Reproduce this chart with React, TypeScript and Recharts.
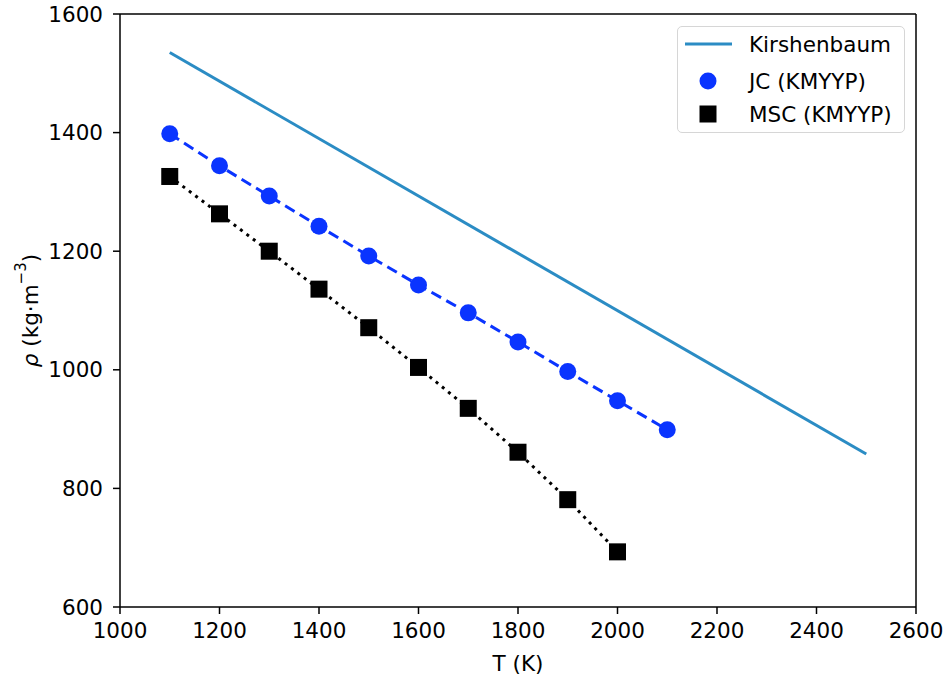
import React from 'react';
import { ComposedChart, Line, XAxis, YAxis, Legend, ReferenceLine } from 'recharts';

// temperatures (K) and densities (kg/m^3)
const jcTemps = [1100, 1200, 1300, 1400, 1500, 1600, 1700, 1800, 1900, 2000, 2100];
const jcRho = [1398, 1344, 1293, 1242, 1192, 1143, 1096, 1047, 997, 948, 899];

const mscTemps = [1100, 1200, 1300, 1400, 1500, 1600, 1700, 1800, 1900, 2000];
const mscRho = [1326, 1263, 1200, 1136, 1071, 1004, 935, 861, 781, 693];

const kirTemps = [1100, 2500];
const kirRho = [1535, 858];

const xTicks = [1000, 1200, 1400, 1600, 1800, 2000, 2200, 2400, 2600];
const yTicks = [600, 800, 1000, 1200, 1400, 1600];

const KIR_COLOR = '#2b8cc4';
const JC_COLOR = '#0a34ff';
const MSC_COLOR = '#000000';
const FONT = '"DejaVu Sans", sans-serif';
const FS = 21.5;

const jcData = jcTemps.map((t, i) => ({ T: t, rho: jcRho[i] }));
const mscData = mscTemps.map((t, i) => ({ T: t, rho: mscRho[i] }));
const kirData = kirTemps.map((t, i) => ({ T: t, rho: kirRho[i] }));

const SquareDot = (props: any) => {
  const { cx, cy } = props;
  if (cx == null || cy == null) return null;
  return <rect x={cx - 8.5} y={cy - 8.5} width={17} height={17} fill={MSC_COLOR} />;
};

const CircleDot = (props: any) => {
  const { cx, cy } = props;
  if (cx == null || cy == null) return null;
  return <circle cx={cx} cy={cy} r={8.5} fill={JC_COLOR} />;
};

const LegendBox = () => (
  <div
    style={{
      width: 228,
      height: 107,
      boxSizing: 'border-box',
      border: '1.5px solid #d6d6d6',
      borderRadius: 5,
      background: 'rgba(255,255,255,0.8)',
    }}
  >
    <svg width={226} height={105} style={{ display: 'block' }}>
      <line x1={7} y1={17} x2={54} y2={17} stroke={KIR_COLOR} strokeWidth={3} />
      <text x={71} y={25} fontSize={FS} fontFamily={FONT} fill="#000">Kirshenbaum</text>
      <circle cx={30} cy={54} r={8.5} fill={JC_COLOR} />
      <text x={71} y={62} fontSize={FS} fontFamily={FONT} fill="#000">JC (KMYYP)</text>
      <rect x={21.5} y={78.5} width={17} height={17} fill={MSC_COLOR} />
      <text x={71} y={95} fontSize={FS} fontFamily={FONT} fill="#000">MSC (KMYYP)</text>
    </svg>
  </div>
);

const YLabel = (props: any) => {
  const { viewBox } = props;
  const cy = viewBox.y + viewBox.height / 2;
  const cx = 30;
  return (
    <text
      x={cx}
      y={cy}
      transform={`rotate(-90, ${cx}, ${cy})`}
      textAnchor="middle"
      dominantBaseline="central"
      fontSize={FS}
      fontFamily={FONT}
      fill="#000"
    >
      <tspan fontStyle="italic">ρ</tspan>
      <tspan> (kg·m</tspan>
      <tspan fontSize={15} dy={-9}>−3</tspan>
      <tspan dy={9}>)</tspan>
    </text>
  );
};

const XLabel = (props: any) => {
  const { viewBox } = props;
  const cx = viewBox.x + viewBox.width / 2;
  return (
    <text x={cx} y={671} textAnchor="middle" fontSize={FS} fontFamily={FONT} fill="#000">
      T (K)
    </text>
  );
};

const tickStyle = { fontSize: FS, fontFamily: FONT, fill: '#000' };
const axisLine = { stroke: '#000', strokeWidth: 1.5 };

export default function App() {
  return (
    <div style={{ position: 'absolute', left: 0, top: 0, background: '#fff' }}>
      <ComposedChart width={948} height={677} margin={{ top: 14, right: 32, left: 60, bottom: 30 }}>
        <XAxis
          type="number"
          dataKey="T"
          domain={[1000, 2600]}
          ticks={xTicks}
          allowDataOverflow
          height={40}
          tick={tickStyle}
          tickSize={7}
          tickMargin={9}
          axisLine={axisLine}
          tickLine={axisLine}
          label={<XLabel />}
        />
        <YAxis
          type="number"
          domain={[600, 1600]}
          ticks={yTicks}
          allowDataOverflow
          width={60}
          tick={tickStyle}
          tickSize={7}
          tickMargin={10}
          axisLine={axisLine}
          tickLine={axisLine}
          label={<YLabel />}
        />
        {/* top and right frame lines */}
        <ReferenceLine y={1600} stroke="#000" strokeWidth={1.5} ifOverflow="visible" />
        <ReferenceLine x={2600} stroke="#000" strokeWidth={1.5} ifOverflow="visible" />
        <Legend
          layout="horizontal"
          verticalAlign="middle"
          align="center"
          content={<LegendBox />}
          wrapperStyle={{ position: 'absolute', left: 677, top: 26, width: 228, height: 107 }}
        />
        <Line
          data={kirData}
          dataKey="rho"
          stroke={KIR_COLOR}
          strokeWidth={3}
          dot={false}
          activeDot={false}
          isAnimationActive={false}
        />
        <Line
          data={jcData}
          dataKey="rho"
          stroke={JC_COLOR}
          strokeWidth={3}
          strokeDasharray="11 6"
          dot={<CircleDot />}
          activeDot={false}
          isAnimationActive={false}
        />
        <Line
          data={mscData}
          dataKey="rho"
          stroke={MSC_COLOR}
          strokeWidth={3}
          strokeDasharray="3 5"
          dot={<SquareDot />}
          activeDot={false}
          isAnimationActive={false}
        />
      </ComposedChart>
    </div>
  );
}
